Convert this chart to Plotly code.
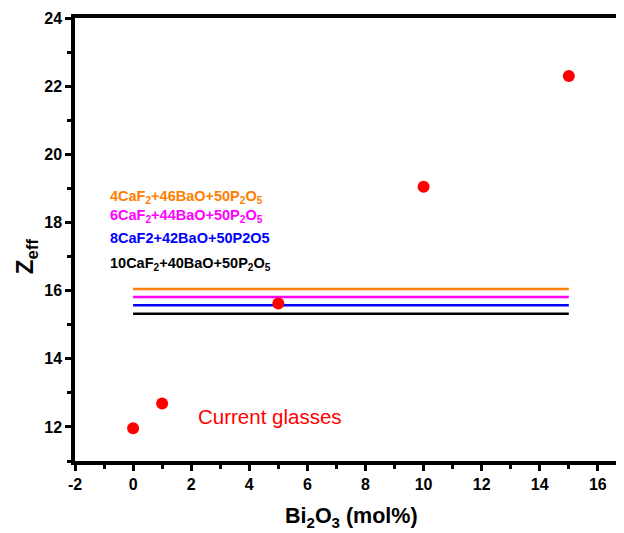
import plotly.graph_objects as go

# Data
bi2o3 = [0, 1, 5, 10, 15]
zeff = [11.96, 12.69, 15.62, 19.05, 22.3]

ref_labels = [
    "4CaF<sub>2</sub>+46BaO+50P<sub>2</sub>O<sub>5</sub>",
    "6CaF<sub>2</sub>+44BaO+50P<sub>2</sub>O<sub>5</sub>",
    "8CaF2+42BaO+50P2O5",
    "10CaF<sub>2</sub>+40BaO+50P<sub>2</sub>O<sub>5</sub>",
]
ref_values = [16.05, 15.81, 15.57, 15.32]
ref_colors = ["#FF8000", "#FF00FF", "#0000FF", "#000000"]
ref_x = [0, 15]
label_y = [18.76, 18.18, 17.53, 16.79]

x_tickvals = list(range(-2, 17, 2))
x_ticktext = [str(v) for v in x_tickvals]
x_minorvals = list(range(-1, 17, 2))
y_tickvals = list(range(12, 25, 2))
y_ticktext = [str(v) for v in y_tickvals]
y_minorvals = list(range(11, 24, 2))

fig = go.Figure()
for v, c in zip(ref_values, ref_colors):
    fig.add_trace(go.Scatter(x=ref_x, y=[v, v], mode="lines",
                             line=dict(color=c, width=2.5), showlegend=False))

fig.add_trace(go.Scatter(x=bi2o3, y=zeff, mode="markers",
                         marker=dict(color="#FF0000", size=12), showlegend=False))

for lab, yy, c in zip(ref_labels, label_y, ref_colors):
    fig.add_annotation(x=-0.86, y=yy, text="<b>" + lab + "</b>", showarrow=False,
                       xanchor="left", yanchor="middle",
                       font=dict(family="Liberation Sans", size=14.5, color=c))

fig.add_annotation(x=2.15, y=12.3, text="Current glasses", showarrow=False,
                   xanchor="left", yanchor="middle",
                   font=dict(family="Liberation Sans", size=20.5, color="#FF0000"))

# axis titles
fig.add_annotation(xref="paper", yref="paper", x=0.503, y=-0.128,
                   text="<b>Bi<sub>2</sub>O<sub>3</sub> (mol%)</b>", showarrow=False,
                   xanchor="center", yanchor="middle",
                   font=dict(family="Liberation Sans", size=21.5, color="black"))
fig.add_annotation(xref="paper", yref="paper", x=-0.087, y=0.463,
                   text="<b>Z<sub>eff</sub></b>", showarrow=False, textangle=-90,
                   xanchor="center", yanchor="middle",
                   font=dict(family="Liberation Sans", size=24, color="black"))

axis_common = dict(
    showline=True, linecolor="black", linewidth=3.5, showgrid=False, zeroline=False,
    ticks="outside", ticklen=6, tickwidth=3, tickcolor="black", automargin=False,
    tickfont=dict(family="Liberation Sans", size=16, color="black", weight="bold"),
)

fig.update_layout(
    width=616, height=525,
    margin=dict(l=67, r=0, t=10, b=72),
    plot_bgcolor="white", paper_bgcolor="white",
    xaxis=dict(range=[-2, 16.9], tickmode="array", tickvals=x_tickvals, ticktext=x_ticktext,
               minor=dict(tickmode="array", tickvals=x_minorvals, ticks="outside", ticklen=4,
                          tickwidth=3, tickcolor="black"),
               mirror=True,
               **axis_common),
    yaxis=dict(range=[11, 24], tickmode="array", tickvals=y_tickvals, ticktext=y_ticktext,
               minor=dict(tickmode="array", tickvals=y_minorvals, ticks="outside", ticklen=4,
                          tickwidth=3, tickcolor="black"),
               **axis_common),
)

fig.write_html("out.html")
